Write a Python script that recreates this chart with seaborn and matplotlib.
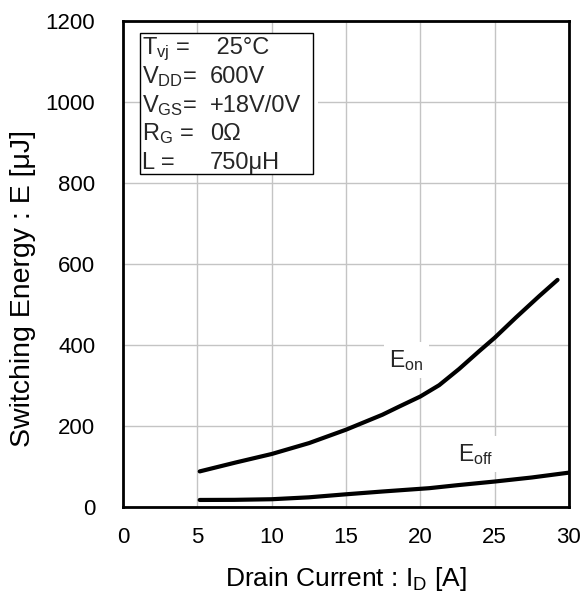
import numpy as np
import pandas as pd
import seaborn as sns
import matplotlib
matplotlib.use("Agg")
import matplotlib.pyplot as plt
from matplotlib.patches import Rectangle

# Drain current [A] and switching energies [uJ]
eon_current = [5.16, 7.58, 10.0, 12.52, 15.0, 17.45, 18.57, 20.0, 21.27,
               22.61, 23.96, 25.0, 26.43, 28.0, 29.23]
eon_energy = [87, 109, 130, 157, 190, 227, 247, 272, 300,
              340, 384, 417, 467, 520, 560]
eoff_current = [5.16, 7.5, 10.0, 12.5, 15.0, 17.5, 20.6, 22.5, 25.0, 27.5, 30.0]
eoff_energy = [16.5, 16.8, 18.3, 23, 30.5, 37.5, 45.6, 53, 62, 72, 84]

x_ticks = [0, 5, 10, 15, 20, 25, 30]
y_ticks = [0, 200, 400, 600, 800, 1000, 1200]

cond_names = [r"T$_{\mathrm{vj}}$ =", r"V$_{\mathrm{DD}}$=", r"V$_{\mathrm{GS}}$=",
              r"R$_{\mathrm{G}}$ =", "L ="]
cond_values = [" 25°C", "600V", "+18V/0V", "0Ω", "750μH"]

sns.set_theme(style="white")
plt.rcParams["font.family"] = ["Liberation Sans", "DejaVu Sans"]
plt.rcParams["mathtext.fontset"] = "custom"
plt.rcParams["mathtext.rm"] = "Liberation Sans"
plt.rcParams["mathtext.it"] = "Liberation Sans:italic"
plt.rcParams["mathtext.bf"] = "Liberation Sans:bold"

df_on = pd.DataFrame({"I": eon_current, "E": eon_energy})
df_off = pd.DataFrame({"I": eoff_current, "E": eoff_energy})

fig = plt.figure(figsize=(5.87, 6.01), dpi=100)
ax = fig.add_axes([0.2095, 0.157, 0.7598, 0.8085])

sns.lineplot(data=df_on, x="I", y="E", ax=ax, color="black", linewidth=3.0, zorder=3)
sns.lineplot(data=df_off, x="I", y="E", ax=ax, color="black", linewidth=3.0, zorder=3)
for ln in ax.lines:
    ln.set_solid_capstyle("round")
    ln.set_solid_joinstyle("round")

ax.set_xlim(0, 30)
ax.set_ylim(0, 1200)
ax.set_xticks(x_ticks)
ax.set_yticks(y_ticks)
ax.grid(True, color="#c4c4c4", linewidth=1.0)
ax.set_axisbelow(True)
ax.tick_params(axis="both", length=0, labelsize=16, colors="black")
ax.tick_params(axis="x", pad=15)
ax.tick_params(axis="y", pad=20)
for s in ax.spines.values():
    s.set_color("black")
    s.set_linewidth(2.0)

ax.set_xlabel(r"Drain Current : I$_{\mathrm{D}}$ [A]", fontsize=19, color="black", labelpad=12)
ax.set_ylabel("Switching Energy : E [μJ]", fontsize=20.5, color="black")
ax.yaxis.set_label_coords(-0.195, 0.449)

# Test-condition box
ax.add_patch(Rectangle((1.12, 821), 12.0, 348, facecolor="white", edgecolor="none",
                       zorder=4))
ax.add_patch(Rectangle((1.12, 821), 11.68, 348, facecolor="none", edgecolor="black",
                       linewidth=1.0, zorder=6))
rows_y = [1117, 1046, 975, 905, 835]
for name, val, yy in zip(cond_names, cond_values, rows_y):
    ax.text(1.3, yy, name, fontsize=17, va="baseline", ha="left", zorder=7)
    ax.text(5.85, yy, val, fontsize=17, va="baseline", ha="left", zorder=7)

# Curve labels
box = dict(facecolor="white", edgecolor="none", pad=4)
ax.text(17.9, 345, r"E$_{\mathrm{on}}$", fontsize=16.5, va="baseline", ha="left",
        bbox=box, zorder=2)
ax.text(22.56, 113, r"E$_{\mathrm{off}}$", fontsize=16.5, va="baseline", ha="left",
        bbox=box, zorder=2)

fig.savefig("out.png", dpi=100)
